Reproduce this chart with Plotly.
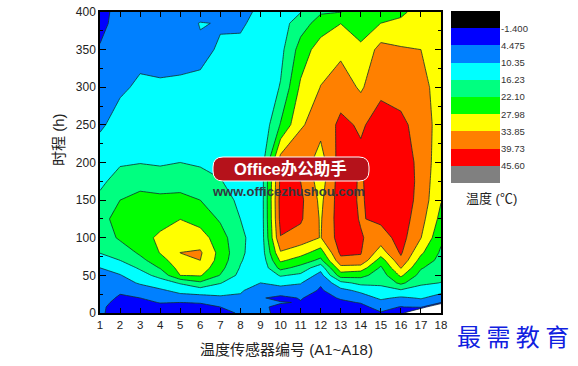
import plotly.graph_objects as go

W, H = 578, 366
hours = [0,8,14,20,30,40,50,60,70,80,100,125,150,175,200,250,300,350,385,400]
A1  = [6,6,7,7.5,8.6,9,9.7,10.35,13,16.4,18.5,19.5,17.5,15,13,9.7,7.3,4.8,3.4,3.5]
A2  = [0,1,2,3.5,5.5,8,10,12.9,16.23,18.5,23,25,22.1,18.5,15.6,12,9.7,7.5,6,5.5]
A3  = [1,2,3.2,4.475,7.5,11,14,17,20.5,23,26,27,24,20,16,13,11,9.2,7.8,7]
A4  = [1.5,3,4.7,6.5,9.5,13.5,18,22.5,25.5,28.2,29,26,23.5,19.3,15.5,12.8,10.8,9,8,7.5]
A5  = [1,3,4.475,8,12,16.8,28,30,32,33.9,31.5,27.9,23.5,20,16.23,13,11,9,8,7.5]
A6  = [1,3,4.8,8,13.5,21,28.5,31.5,33.85,34.6,30.8,25.5,22.1,18.5,15.5,13,11,9.6,10.6,8]
A7  = [3,4.475,6.5,9.3,13,16.5,21.8,24,25.5,26,24.5,21.4,18.8,16.5,14.8,13,11.8,10.7,10.1,9.5]
A8  = [5,6,7.5,9.5,11,12.8,14.5,15.8,16.8,17.5,17.8,16.2,15,14,13.5,13,12,10.6,10.2,9.9]
A9  = [7,5.2,5.4,5,7.5,10.35,11,11.3,11.5,12,12,12,12,12,12,11,11.5,11,10.7,10.65]
A10 = [2,3.5,4.8,3,8,12,16.8,24,29,33.2,39.5,41.5,42,41,37,22.5,16.6,14.5,13.5,13]
A11 = [1.5,2.5,4.2,4.8,8,10.7,15,20,25.5,30,37.5,40.5,41,39.73,37.5,33.3,29,24.5,19.5,16]
A12 = [1,1.5,2,2.5,3.7,5.2,8.2,12.5,20.7,25.2,33.6,33.3,32.5,31,31,36,34,31,24.5,21.5]
A13 = [1.5,2,3.5,5,8.7,14.5,25,32,38,41,42.5,43,43,43,42.5,41,37,32.5,27.9,22]
A14 = [1.5,3,4.8,7.5,11.7,17.8,24,31,38.7,40,40.2,39.3,38.9,39,41,39,33,29,25.5,24]
A15 = [4,6.5,8.8,11.3,14.9,17,19,21.2,25,31,37,41,43.5,44,44,42,38.5,36,28,25]
A16 = [2.5,4.2,7,9.5,15.5,23.5,29,34.2,38.3,40.5,42,43,43.5,43.5,43,41,37.5,34.5,29,27]
A17 = [-25,6,8.5,10.8,14,17.2,20,22.6,25.8,29,34,36,37.5,38,38,37.5,36,33.85,31,30]
A18 = [-30,-20,5,8.2,12,16.1,17.5,19,20.3,21.2,23.3,26.2,28.3,29,30,31,31,30,29,28.5]
sensors = list(range(1, 19))
columns = [A1,A2,A3,A4,A5,A6,A7,A8,A9,A10,A11,A12,A13,A14,A15,A16,A17,A18]
z = [[col[i] for col in columns] for i in range(len(hours))]

level_labels = ["-1.400","4.475","10.35","16.23","22.10","27.98","33.85","39.73","45.60"]
band_colors = ["#000000","#0000ff","#0080ff","#00ffff","#00ff80","#00ff00","#ffff00","#ff8000","#ff0000","#808080"]
fill_colors = ["#ffffff"] + band_colors[1:]
bands = list(range(10))

def px(x): return x / W
def py(y): return 1 - y / H

fig = go.Figure()
fig.add_trace(go.Contour(
    x=sensors, y=hours, z=z, showscale=False, hoverinfo="skip",
    autocontour=False,
    contours=dict(start=-1.4, end=45.6, size=5.875, coloring="fill"),
    colorscale=[[i / 9, c] for i, c in enumerate(fill_colors)],
    line=dict(color="#10302a", width=0.8, smoothing=0),
))
fig.add_trace(go.Heatmap(
    z=[[b] for b in bands], y=bands, x=[0], xaxis="x2", yaxis="y2",
    showscale=False, hoverinfo="skip", zmin=0, zmax=9,
    colorscale=[[i / 9, c] for i, c in enumerate(band_colors)],
))

font = "Liberation Sans, Arial, Noto Sans CJK SC, sans-serif"
axis_line = dict(showline=True, linecolor="#000", linewidth=1.5, mirror="ticks", ticks="inside",
                 tickcolor="#000", tickwidth=1.2, showgrid=False, zeroline=False, automargin=False)
fig.update_layout(
    width=W, height=H, autosize=False, margin=dict(l=0, r=0, t=0, b=0),
    paper_bgcolor="white", plot_bgcolor="white", showlegend=False,
    font=dict(family=font, color="#222"),
    xaxis=dict(domain=[px(100), px(441)], range=[1, 18], tickvals=sensors, ticklen=5,
               tickfont=dict(size=11.5), **axis_line),
    yaxis=dict(domain=[py(313), py(12)], range=[0, 400], tickvals=list(range(0, 401, 50)), ticklen=6,
               tickfont=dict(size=12), minor=dict(dtick=25, ticks="inside", ticklen=3, tickcolor="#000"),
               **axis_line),
    xaxis2=dict(domain=[px(451), px(500)], anchor="y2", visible=False, range=[-0.5, 0.5], automargin=False),
    yaxis2=dict(domain=[py(183), py(11)], anchor="x2", side="right", range=[9.5, -0.5], automargin=False,
                tickvals=[b + 0.5 for b in bands[:-1]], ticktext=level_labels, ticks="",
                showline=False, showgrid=False, zeroline=False, tickfont=dict(size=9.5, color="#333")),
)

rad = 10
x0, x1, y0, y1 = px(213), px(369), py(181), py(157)
rx, ry = rad / W, rad / H
fig.add_shape(type="path", xref="paper", yref="paper", layer="above",
              path=f"M {x0+rx} {y1} L {x1-rx} {y1} Q {x1} {y1} {x1} {y1-ry} L {x1} {y0+ry} Q {x1} {y0} {x1-rx} {y0} "
                   f"L {x0+rx} {y0} Q {x0} {y0} {x0} {y0+ry} L {x0} {y1-ry} Q {x0} {y1} {x0+rx} {y1} Z",
              fillcolor="#b5121b", line=dict(color="#ffffff", width=1))

def note(text, x, y, size, color="#222", angle=0, bold=False):
    fig.add_annotation(text=f"<b>{text}</b>" if bold else text, xref="paper", yref="paper", x=px(x), y=py(y),
                       showarrow=False, textangle=angle, xanchor="center", yanchor="middle",
                       font=dict(size=size, color=color, family=font))

note("温度传感器编号 (A1~A18)", 286, 349, 15)
note("时程 (h)", 58, 140, 15, angle=-90)
note("温度 (℃)", 491, 198, 13)
note("Office办公助手", 290, 169, 16.5, "#ffffff", bold=True)
note("www.officezhushou.com", 288, 191, 13, "#33383f", bold=True)
fig.add_annotation(text="最 需 教 育", xref="paper", yref="paper", x=px(513), y=py(335), showarrow=False,
                   xanchor="center", yanchor="middle",
                   font=dict(size=24, color="#1020e0", family="Noto Sans CJK SC"))

fig.write_html("out.html", post_script="document.body.style.margin='0';", config=dict(displayModeBar=False))
